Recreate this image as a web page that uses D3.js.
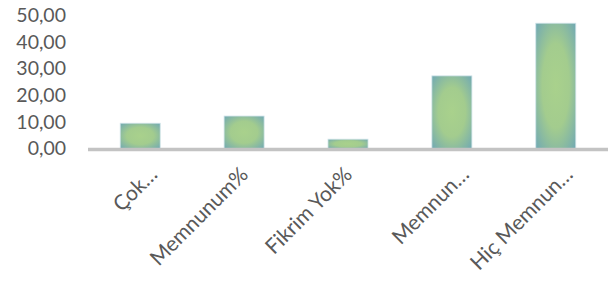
<!DOCTYPE html>
<html>
<head>
<meta charset="utf-8">
<script src="https://d3js.org/d3.v7.min.js"></script>
<style>
  body { margin: 0; background: #fff; }
  svg text { font-family: Lato, "Open Sans", sans-serif; fill: #595959; }
</style>
</head>
<body>
<div id="chart"></div>
<script>
// data
var categories = ["Çok…", "Memnunum%", "Fikrim Yok%", "Memnun…", "Hiç Memnun…"];
var values = [9.5, 12.2, 3.5, 27.3, 47.1];
var yTicks = [0, 10, 20, 30, 40, 50];

var width = 614, height = 284;
var margin = {top: 15, right: 6, bottom: 135, left: 88};

var svg = d3.select("#chart").append("svg")
    .attr("width", width)
    .attr("height", height);

var defs = svg.append("defs");
var grad = defs.append("radialGradient")
    .attr("id", "barFill")
    .attr("cx", "50%").attr("cy", "50%").attr("r", "75%");
grad.append("stop").attr("offset", "0%").attr("stop-color", "#a9d18c");
grad.append("stop").attr("offset", "45%").attr("stop-color", "#a3cc8e");
grad.append("stop").attr("offset", "100%").attr("stop-color", "#6aa4b8");

var x = d3.scaleBand()
    .domain(categories)
    .range([margin.left, width - margin.right])
    .paddingInner(0.615)
    .paddingOuter(0.31);

var y = d3.scaleLinear()
    .domain([0, 50])
    .range([148.5, 15.5]);

// y labels
var yAxis = d3.axisLeft(y)
    .tickValues(yTicks)
    .tickFormat(function(d){ return d3.format(".2f")(d).replace(".", ","); })
    .tickSize(0)
    .tickPadding(0);

var gy = svg.append("g")
    .attr("transform", "translate(66,0)")
    .call(yAxis);
gy.select(".domain").remove();
gy.selectAll("text")
    .style("font-size", "19.5px")
    .attr("fill", "#595959");

// bars
svg.append("g").selectAll("rect")
    .data(values)
    .join("rect")
    .attr("x", function(d,i){ return x(categories[i]); })
    .attr("width", x.bandwidth())
    .attr("y", function(d){ return y(d); })
    .attr("height", function(d){ return y(0) - y(d); })
    .attr("fill", "url(#barFill)")
    .attr("stroke", "#cfe3e8")
    .attr("stroke-width", 0.8);

// baseline
svg.append("line")
    .attr("x1", margin.left).attr("x2", width - margin.right)
    .attr("y1", y(0) + 1).attr("y2", y(0) + 1)
    .attr("stroke", "#c3c3c3")
    .attr("stroke-width", 3.5);

// category labels (truncated ones sit a bit further right, as in Excel)
var xAxis = d3.axisBottom(x).tickSize(0).tickPadding(0);
var gx = svg.append("g")
    .attr("transform", "translate(0," + (y(0) + 17) + ")")
    .call(xAxis);
gx.select(".domain").remove();
gx.selectAll("text")
    .style("font-size", "21px")
    .attr("text-anchor", "end")
    .attr("dy", "0.7em")
    .attr("transform", function(d){
        var dx = d.slice(-1) === "…" ? 8 : -5;
        return "translate(" + dx + ",0) rotate(-45)";
    });
</script>
</body>
</html>
